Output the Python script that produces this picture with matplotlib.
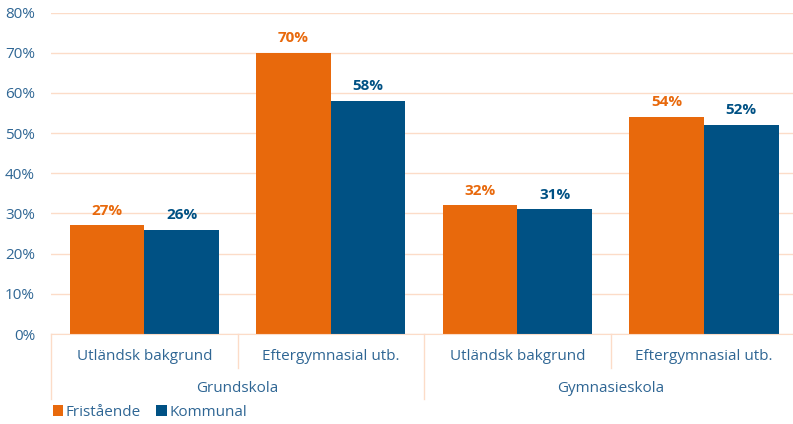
import matplotlib
matplotlib.use("Agg")
import matplotlib.pyplot as plt
import numpy as np
from matplotlib.patches import Patch
from matplotlib.lines import Line2D
from matplotlib.transforms import blended_transform_factory

plt.rcParams['font.family'] = ['Open Sans', 'DejaVu Sans']

categories = ["Utländsk bakgrund", "Eftergymnasial utb.", "Utländsk bakgrund", "Eftergymnasial utb."]
groups = ["Grundskola", "Gymnasieskola"]
series_names = ["Fristående", "Kommunal"]
fristaende = [27, 70, 32, 54]
kommunal = [26, 58, 31, 52]
yticks = [0, 10, 20, 30, 40, 50, 60, 70, 80]

ORANGE = "#E8690C"
BLUE = "#005184"
TEXT = "#2F6694"
GRID = "#FCDCC8"

W, H = 793, 424
fig = plt.figure(figsize=(W / 100, H / 100), dpi=100)
left_px, right_px, top_px, bottom_px = 51, 797.3, 12.5, 334
ax = fig.add_axes([left_px / W, (H - bottom_px) / H, (right_px - left_px) / W, (bottom_px - top_px) / H])

x = np.arange(len(categories))
bw = 0.4
ax.bar(x - bw / 2, fristaende, width=bw, color=ORANGE, zorder=3)
ax.bar(x + bw / 2, kommunal, width=bw, color=BLUE, zorder=3)

for xi, v in zip(x, fristaende):
    ax.annotate(f"{v}%", (xi - bw / 2, v), xytext=(0, 5.5), textcoords="offset points",
                ha="center", va="bottom", fontsize=11, fontweight="bold", color=ORANGE)
for xi, v in zip(x, kommunal):
    ax.annotate(f"{v}%", (xi + bw / 2, v), xytext=(0, 5.5), textcoords="offset points",
                ha="center", va="bottom", fontsize=11, fontweight="bold", color=BLUE)

ax.set_xlim(-0.5, len(categories) - 0.5)
ax.set_ylim(0, 80)
ax.set_yticks(yticks)
ax.set_yticklabels([f"{t}%" for t in yticks])
ax.tick_params(axis="y", length=0, pad=11.5, labelsize=11, labelcolor=TEXT)
ax.set_xticks([])
ax.grid(axis="y", color=GRID, linewidth=1, zorder=0)
for s in ["left", "right", "top"]:
    ax.spines[s].set_visible(False)
ax.spines["bottom"].set_color(GRID)
ax.spines["bottom"].set_zorder(4)

tr = blended_transform_factory(ax.transData, fig.transFigure)

def fy(py):
    return (H - py) / H

for xi, c in zip(x, categories):
    ax.text(xi, fy(357), c, transform=tr, ha="center", va="center", fontsize=11, color=TEXT)
for gi, g in enumerate(groups):
    ax.text(gi * 2 + 0.5, fy(388), g, transform=tr, ha="center", va="center", fontsize=11, color=TEXT)
for b in np.arange(-0.5, len(categories), 1.0):
    outer = (int(round(b + 0.5)) % 2 == 0)
    y_end = 399 if outer else 368
    ax.add_line(Line2D([b, b], [fy(334), fy(y_end)], transform=tr, color=GRID, lw=1, clip_on=False))

handles = [Patch(facecolor=ORANGE), Patch(facecolor=BLUE)]
leg = fig.legend(handles, series_names, loc="lower left", bbox_to_anchor=(45 / W, -0.008), ncol=2,
                 frameon=False, fontsize=11, handlelength=0.7, handleheight=0.7,
                 handletextpad=0.15, columnspacing=1.0, borderaxespad=0.1)
for t in leg.get_texts():
    t.set_color(TEXT)

fig.savefig("out.png", dpi=100)
